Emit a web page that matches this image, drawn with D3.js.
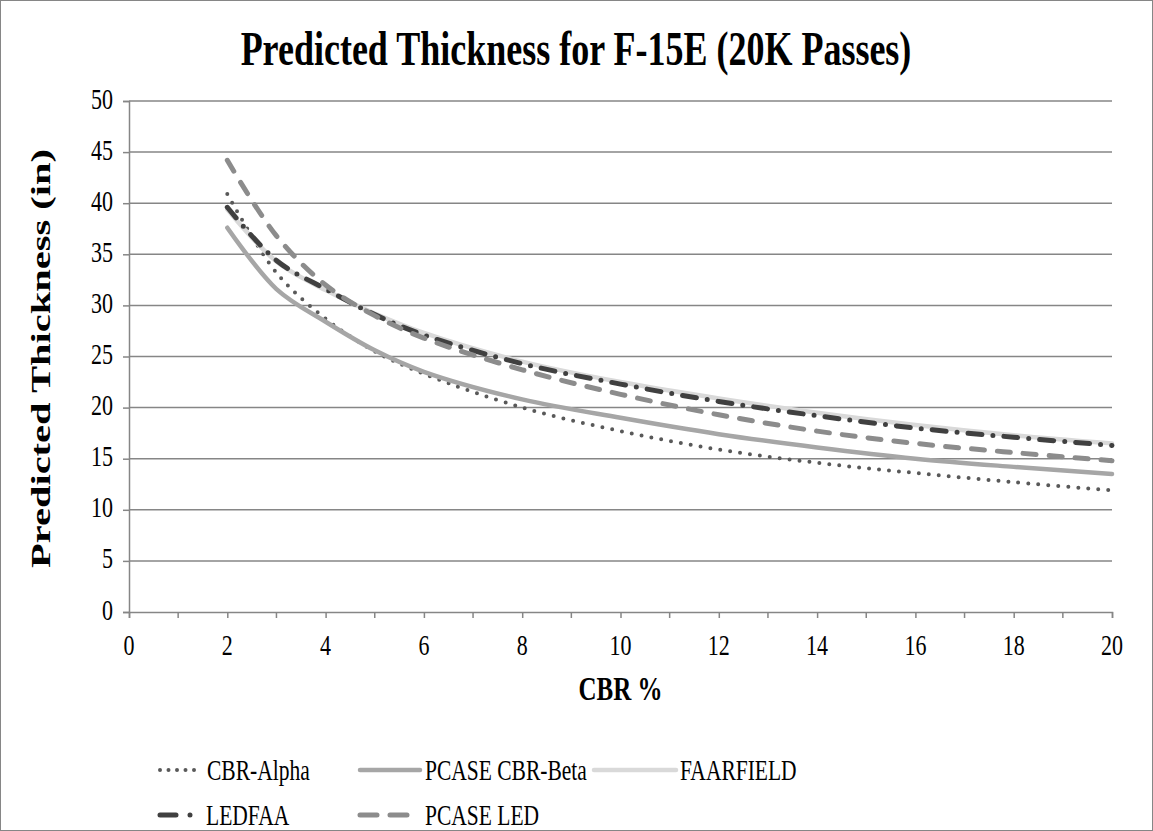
<!DOCTYPE html>
<html>
<head>
<meta charset="utf-8">
<script src="https://cdn.jsdelivr.net/npm/d3@7"></script>
<style>
  html, body { margin: 0; padding: 0; background: #fff; }
  svg { display: block; }
  text { font-family: "Liberation Serif", "Times New Roman", Times, "DejaVu Serif", serif; fill: #000; }
</style>
</head>
<body>
<svg id="chart" width="1153" height="831"></svg>
<script>
const title = "Predicted Thickness for F-15E (20K Passes)";
const xTitle = "CBR %";
const yTitle = "Predicted Thickness (in)";

const cbr = [2, 3, 4, 5, 6, 8, 10, 12, 14, 16, 18, 20];
const cbrAlpha = [40.9, 33.2, 28.7, 25.5, 23.3, 20.0, 17.7, 15.9, 14.6, 13.6, 12.7, 11.9];
const pcaseCbrBeta = [37.6, 31.6, 28.4, 25.6, 23.5, 20.8, 19.0, 17.4, 16.1, 15.0, 14.2, 13.5];
const faarfield = [39.4, 34.3, 31.5, 29.2, 27.3, 24.5, 22.5, 20.9, 19.5, 18.3, 17.3, 16.5];
const ledfaa = [39.6, 34.4, 31.6, 29.1, 27.1, 24.3, 22.3, 20.6, 19.2, 18.0, 17.1, 16.3];
const pcaseLed = [44.2, 36.8, 32.0, 29.0, 26.8, 23.7, 21.3, 19.3, 17.7, 16.5, 15.6, 14.8];

const seriesNames = ["CBR-Alpha", "PCASE CBR-Beta", "FAARFIELD", "LEDFAA", "PCASE LED"];
const xTickValues = [0, 2, 4, 6, 8, 10, 12, 14, 16, 18, 20];
const xMinorTicks = [1, 3, 5, 7, 9, 11, 13, 15, 17, 19];
const yTickValues = [0, 5, 10, 15, 20, 25, 30, 35, 40, 45, 50];

const styles = [
  { color: "#595959", width: 4, dash: "0,10" },
  { color: "#a6a6a6", width: 4.5, dash: null },
  { color: "#d9d9d9", width: 4.5, dash: null },
  { color: "#404040", width: 5, dash: "14,11,0,11" },
  { color: "#8c8c8c", width: 5, dash: "13,13" }
];
const seriesValues = [cbrAlpha, pcaseCbrBeta, faarfield, ledfaa, pcaseLed];

const svg = d3.select("#chart");
const W = 1153, H = 831;
const plot = { left: 129, right: 1112, top: 101, bottom: 612 };
const K = 1.35; // vertical stretch of the text in the reference

svg.append("rect").attr("x", 0.5).attr("y", 0.5).attr("width", W - 1).attr("height", H - 1)
  .attr("fill", "#fff").attr("stroke", "#868686").attr("stroke-width", 1);

const x = d3.scaleLinear().domain([0, 20]).range([plot.left, plot.right]);
const y = d3.scaleLinear().domain([0, 50]).range([plot.bottom, plot.top]);

function stretchedText(parent, tx, ty, str, size, anchor, bold) {
  const g = parent.append("g").attr("transform", `translate(${tx},${ty}) scale(1,${K})`);
  const t = g.append("text").attr("x", 0).attr("y", 0)
    .attr("text-anchor", anchor)
    .style("font-size", size + "px")
    .text(str);
  if (bold) t.style("font-weight", "bold");
  return t;
}

// gridlines
svg.append("g").selectAll("line").data(yTickValues.filter(v => v > 0)).join("line")
  .attr("x1", plot.left).attr("x2", plot.right)
  .attr("y1", d => y(d)).attr("y2", d => y(d))
  .attr("stroke", "#868686").attr("stroke-width", 1.5);

// y axis
const yAxis = svg.append("g").attr("transform", `translate(${plot.left},0)`)
  .call(d3.axisLeft(y).tickValues(yTickValues).tickSize(6).tickFormat(""));
yAxis.select(".domain").attr("stroke", "#868686").attr("stroke-width", 1.5);
yAxis.selectAll(".tick line").attr("stroke", "#868686").attr("stroke-width", 1.5);
const yLab = svg.append("g");
yTickValues.forEach(v => stretchedText(yLab, plot.left - 16, y(v) + 7.5, d3.format("d")(v), 22, "end", false));

// x axis
const xAxis = svg.append("g").attr("transform", `translate(0,${plot.bottom})`)
  .call(d3.axisBottom(x).tickValues(xTickValues).tickSize(6).tickFormat(""));
xAxis.select(".domain").attr("stroke", "#868686").attr("stroke-width", 1.5);
xAxis.selectAll(".tick line").attr("stroke", "#868686").attr("stroke-width", 1.5);
svg.append("g").selectAll("line").data(xMinorTicks).join("line")
  .attr("x1", d => x(d)).attr("x2", d => x(d))
  .attr("y1", plot.bottom).attr("y2", plot.bottom + 6)
  .attr("stroke", "#868686").attr("stroke-width", 1.5);
const xLab = svg.append("g");
xTickValues.forEach(v => stretchedText(xLab, x(v), 655, d3.format("d")(v), 22, "middle", false));

// series
const line = d3.line().x(d => x(d[0])).y(d => y(d[1])).curve(d3.curveCatmullRom.alpha(0.5));
seriesValues.forEach((vals, i) => {
  const st = styles[i];
  const p = svg.append("path")
    .datum(cbr.map((c, j) => [c, vals[j]]))
    .attr("d", line)
    .attr("fill", "none")
    .attr("stroke", st.color)
    .attr("stroke-width", st.width)
    .attr("stroke-linecap", "round")
    .attr("stroke-linejoin", "round");
  if (st.dash) p.attr("stroke-dasharray", st.dash);
});

// titles
stretchedText(svg, 576, 65, title, 36, "middle", true);
stretchedText(svg, (plot.left + plot.right) / 2, 700, xTitle, 25, "middle", true);
svg.append("g").attr("transform", `translate(50,${(plot.top + plot.bottom) / 2 + 2}) rotate(-90) scale(1.5,1)`)
  .append("text").attr("x", 0).attr("y", 0).attr("text-anchor", "middle")
  .style("font-size", "27px").style("font-weight", "bold").text(yTitle);

// legend
const legendPos = [
  { x: 160, y: 770, len: 42, tx: 207 },
  { x: 360, y: 770, len: 60, tx: 425 },
  { x: 594, y: 770, len: 82, tx: 680 },
  { x: 160, y: 815, len: 42, tx: 206 },
  { x: 360, y: 815, len: 60, tx: 425 }
];
const legendDash = ["0,8.5", null, null, "16,14,0,13,0,13", "17,13"];
seriesNames.forEach((name, i) => {
  const lp = legendPos[i], st = styles[i];
  const l = svg.append("line")
    .attr("x1", lp.x).attr("x2", lp.x + lp.len)
    .attr("y1", lp.y).attr("y2", lp.y)
    .attr("stroke", st.color).attr("stroke-width", st.width)
    .attr("stroke-linecap", "round");
  if (legendDash[i]) l.attr("stroke-dasharray", legendDash[i]);
  stretchedText(svg, lp.tx, lp.y + 10, name, 21.5, "start", false);
});
</script>
</body>
</html>
